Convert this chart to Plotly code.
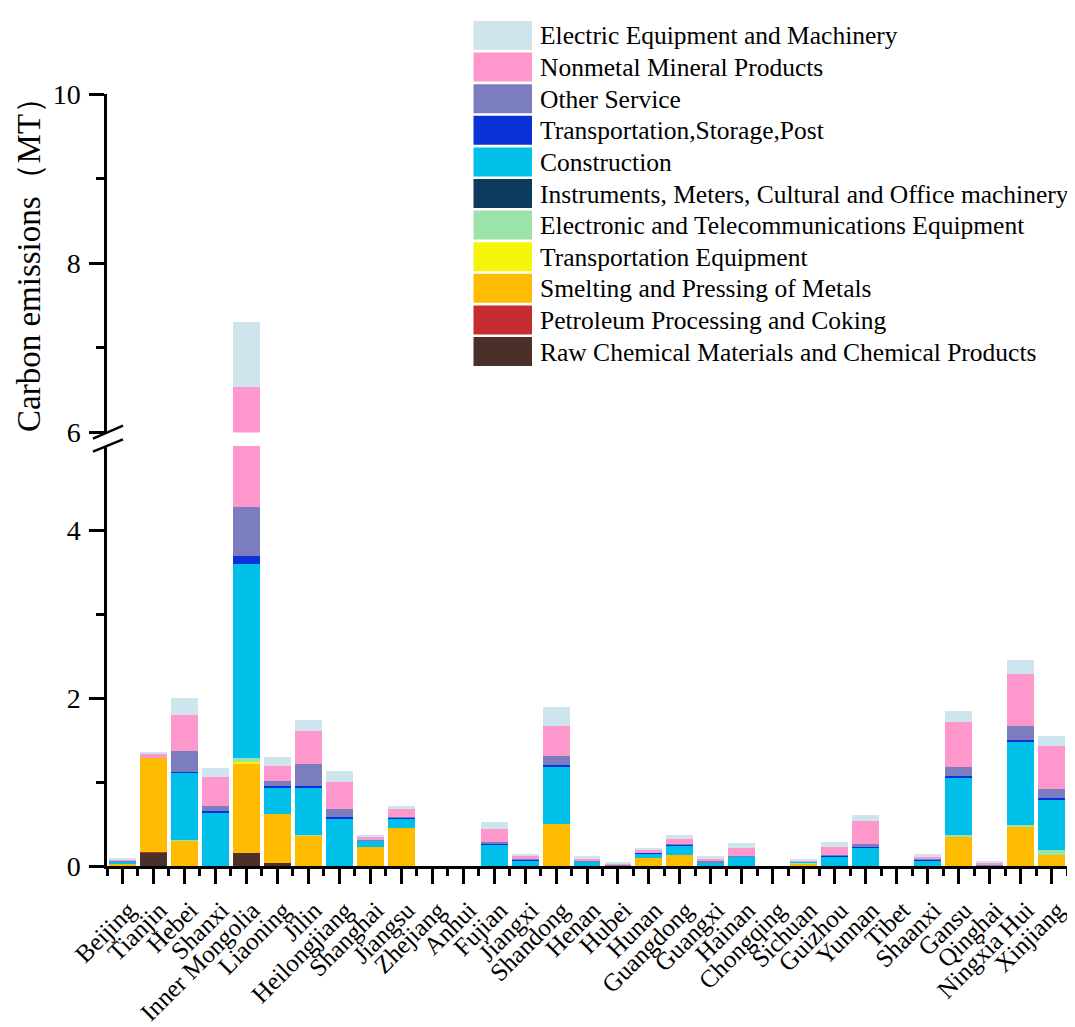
import plotly.graph_objects as go

provinces = ["Beijing", "Tianjin", "Hebei", "Shanxi", "Inner Mongolia", "Liaoning", "Jilin",
             "Heilongjiang", "Shanghai", "Jiangsu", "Zhejiang", "Anhui", "Fujian", "Jiangxi",
             "Shandong", "Henan", "Hubei", "Hunan", "Guangdong", "Guangxi", "Hainan", "Chongqing",
             "Sichuan", "Guizhou", "Yunnan", "Tibet", "Shaanxi", "Gansu", "Qinghai", "Ningxia Hui",
             "Xinjiang"]

# sectors listed bottom-of-stack first
sectors = ["Raw Chemical Materials and Chemical Products",
           "Petroleum Processing and Coking",
           "Smelting and Pressing of Metals",
           "Transportation Equipment",
           "Electronic and Telecommunications Equipment",
           "Instruments, Meters, Cultural and Office machinery",
           "Construction",
           "Transportation,Storage,Post",
           "Other Service",
           "Nonmetal Mineral Products",
           "Electric Equipment and Machinery"]

colors = ["#4a3028", "#c62b32", "#ffbb00", "#f5f50a", "#9be3a8", "#0d3b5e",
          "#00bfe8", "#0a32d8", "#7b7dbf", "#fd97cc", "#cfe5ed"]

raw_chem = [0, 0.16, 0, 0, 0.16, 0.03, 0, 0, 0, 0, 0, 0, 0, 0, 0, 0, 0, 0, 0, 0, 0, 0,
            0.005, 0, 0, 0, 0, 0, 0, 0, 0]
petroleum = [0, 0.005, 0, 0, 0, 0, 0, 0, 0, 0, 0, 0, 0, 0, 0, 0, 0, 0, 0, 0, 0, 0,
             0.005, 0, 0, 0, 0, 0, 0, 0, 0]
smelting = [0.02, 1.125, 0.30, 0, 1.06, 0.585, 0.36, 0, 0.23, 0.45, 0, 0, 0, 0, 0.50, 0, 0,
            0.10, 0.13, 0, 0, 0, 0.02, 0, 0, 0, 0, 0.345, 0, 0.475, 0.13]
transport_equip = [0, 0, 0, 0, 0.02, 0, 0, 0, 0, 0, 0, 0, 0, 0, 0, 0, 0, 0, 0, 0, 0, 0,
                   0.005, 0, 0, 0, 0, 0, 0, 0, 0]
electronic = [0, 0, 0.01, 0, 0.04, 0, 0.005, 0, 0, 0, 0, 0, 0, 0, 0.005, 0, 0, 0, 0, 0, 0, 0,
              0.005, 0, 0, 0, 0, 0.025, 0, 0.01, 0.06]
instruments = [0] * 31
construction = [0.03, 0, 0.80, 0.64, 2.31, 0.325, 0.575, 0.57, 0.07, 0.12, 0, 0, 0.25, 0.07,
                0.685, 0.05, 0.01, 0.05, 0.11, 0.04, 0.11, 0, 0.01, 0.11, 0.22, 0, 0.07,
                0.685, 0.01, 0.995, 0.60]
transport_storage = [0.005, 0, 0.015, 0.01, 0.10, 0.015, 0.015, 0.015, 0.005, 0.005, 0, 0,
                     0.01, 0.005, 0.01, 0.005, 0, 0.005, 0.01, 0.005, 0.005, 0, 0, 0.02,
                     0.01, 0, 0.005, 0.015, 0, 0.02, 0.015]
other_service = [0.01, 0, 0.25, 0.07, 0.58, 0.055, 0.265, 0.095, 0.01, 0.01, 0, 0, 0.025,
                 0.005, 0.11, 0.005, 0.005, 0.005, 0.01, 0.01, 0.005, 0, 0.005, 0.005,
                 0.035, 0, 0.005, 0.11, 0.005, 0.17, 0.115]
nonmetal = [0.015, 0.05, 0.42, 0.34, 2.27, 0.18, 0.39, 0.315, 0.035, 0.095, 0, 0, 0.155,
            0.04, 0.36, 0.025, 0.01, 0.03, 0.06, 0.03, 0.10, 0, 0.015, 0.09, 0.27, 0,
            0.03, 0.54, 0.03, 0.61, 0.51]
electric = [0.02, 0.02, 0.20, 0.11, 0.76, 0.11, 0.13, 0.135, 0.02, 0.04, 0, 0, 0.08, 0.025,
            0.22, 0.03, 0.015, 0.03, 0.05, 0.035, 0.05, 0, 0.01, 0.055, 0.075, 0, 0.035,
            0.12, 0.02, 0.17, 0.12]

series = [raw_chem, petroleum, smelting, transport_equip, electronic, instruments,
          construction, transport_storage, other_service, nonmetal, electric]

lower_ticks = [0, 2, 4]
upper_ticks = [6, 8, 10]

# page body has an 8px margin; layout numbers below are in screen pixels
OFF = 8
SCR_L, SCR_R, SCR_T, SCR_B = 107, 1067, 94, 866
W, H = 1075 - OFF, 1027 - OFF
L, T = SCR_L - OFF, SCR_T - OFF
R = W - (SCR_R - OFF)
B = H - (SCR_B - OFF)
PW, PH = SCR_R - SCR_L, SCR_B - SCR_T


def px_x(px):
    return (px - SCR_L) / PW


def px_y(py):
    return (SCR_B - py) / PH


FONT = "Liberation Serif, Times New Roman, serif"
x = list(range(len(provinces)))

fig = go.Figure()
for name, col, vals in zip(sectors, colors, series):
    for ax in ["y", "y2"]:
        fig.add_trace(go.Bar(
            x=x, y=vals, name=name, yaxis=ax, width=0.87,
            marker=dict(color=col, line=dict(width=0)),
            showlegend=False,
            customdata=provinces,
            hovertemplate="%{customdata}<br>" + name + ": %{y}<extra></extra>",
        ))

axis_common = dict(showline=True, linecolor="black", linewidth=2.5, ticks="outside",
                   ticklen=15, tickwidth=2.5, tickcolor="black", showgrid=False,
                   zeroline=False, automargin=False)

shapes = []
annotations = []

# custom legend (top-of-stack first)
for i, (name, col) in enumerate(zip(sectors[::-1], colors[::-1])):
    top = 21 + 31.6 * i
    shapes.append(dict(type="rect", xref="paper", yref="paper",
                       x0=px_x(473.5), x1=px_x(532), y0=px_y(top), y1=px_y(top + 29),
                       fillcolor=col, line=dict(width=0), layer="above"))
    annotations.append(dict(text=name, xref="paper", yref="paper", x=px_x(538),
                            y=px_y(top + 15), xanchor="left", yanchor="middle",
                            showarrow=False, font=dict(family=FONT, size=25.5, color="black")))

# axis break marks
shapes.append(dict(type="line", xref="paper", yref="paper", x0=px_x(93), y0=px_y(438.7),
                   x1=px_x(123), y1=px_y(425.7), line=dict(color="black", width=2.5)))
shapes.append(dict(type="line", xref="paper", yref="paper", x0=px_x(93), y0=px_y(451.7),
                   x1=px_x(123), y1=px_y(439.3), line=dict(color="black", width=2.5)))

annotations.append(dict(text="Carbon emissions（MT）", xref="paper", yref="paper",
                        x=px_x(29), y=px_y(257), xanchor="center", yanchor="middle",
                        textangle=-90, showarrow=False,
                        font=dict(family=FONT, size=33, color="black")))

fig.update_layout(
    width=W, height=H,
    margin=dict(l=L, r=R, t=T, b=B, autoexpand=False),
    paper_bgcolor="white", plot_bgcolor="white",
    barmode="stack",
    showlegend=False,
    font=dict(family=FONT, color="black"),
    xaxis=dict(range=[-0.5, len(provinces) - 0.5], tickvals=x, ticktext=provinces,
               tickangle=-45, anchor="y", ticklabelstandoff=2, ticklabelshift=6,
               ticklabeloverflow="allow",
               tickfont=dict(family=FONT, size=25, color="black"),
               minor=dict(tickvals=[i - 0.5 for i in range(len(provinces) + 1)],
                          ticks="outside", ticklen=7, tickwidth=2.5, tickcolor="black",
                          showgrid=False),
               **axis_common),
    yaxis=dict(domain=[0, px_y(446)], range=[0, 5], tickvals=lower_ticks,
               tickfont=dict(family=FONT, size=28, color="black"), ticklabelstandoff=3,
               minor=dict(tickvals=[1, 3], ticks="outside", ticklen=8, tickwidth=2.5,
                          tickcolor="black", showgrid=False),
               anchor="x", **axis_common),
    yaxis2=dict(domain=[px_y(432.5), 1], range=[6, 10], tickvals=upper_ticks,
                tickfont=dict(family=FONT, size=28, color="black"), ticklabelstandoff=3,
                minor=dict(tickvals=[7, 9], ticks="outside", ticklen=8, tickwidth=2.5,
                           tickcolor="black", showgrid=False),
                anchor="x", **axis_common),
    shapes=shapes,
    annotations=annotations,
)

fig.write_html("out.html")
